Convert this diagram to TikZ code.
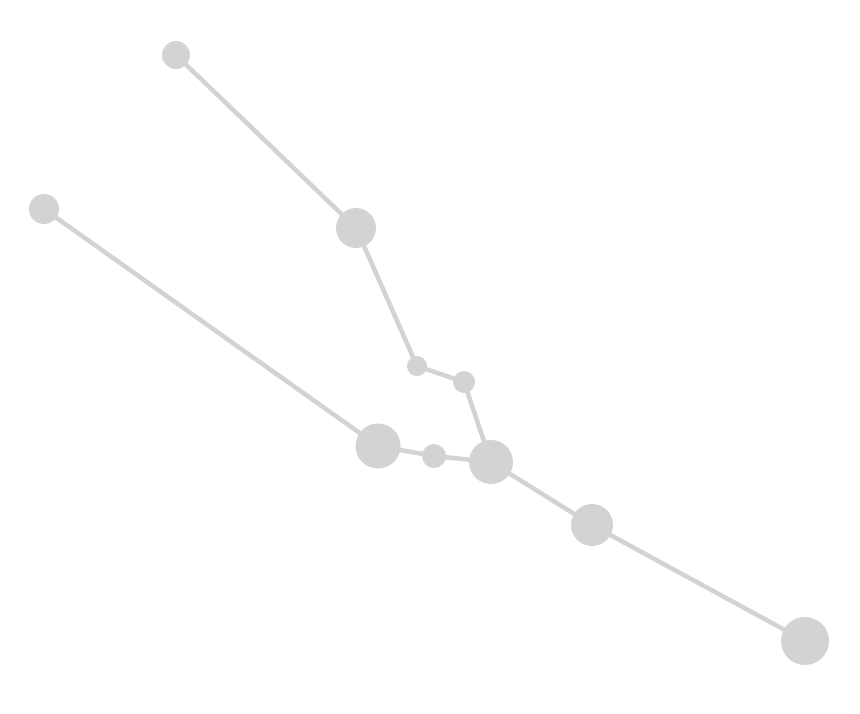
\documentclass[tikz,border=0pt]{standalone}
\begin{document}
\begin{tikzpicture}[x=1pt,y=-1pt,
  dot/.style={circle,fill=nodegray,draw=none,inner sep=0pt,minimum size=#1},
  link/.style={draw=nodegray,line width=4.5pt}]
\definecolor{nodegray}{HTML}{D3D3D3}
\useasboundingbox (0,0) rectangle (860,713);
\node[dot=28pt] (a) at (176,55) {};
\node[dot=40pt] (b) at (356,228) {};
\node[dot=20pt] (c) at (417,366) {};
\node[dot=22pt] (d) at (464,382) {};
\node[dot=30pt] (e) at (44,209) {};
\node[dot=45pt] (f) at (378,446) {};
\node[dot=24pt] (g) at (434,456) {};
\node[dot=44pt] (h) at (491,462) {};
\node[dot=42pt] (i) at (592,525) {};
\node[dot=48pt] (j) at (805,641) {};
\begin{scope}[on background layer/.style={}]
\end{scope}
\path[link] (a.center) -- (b.center);
\path[link] (b.center) -- (c.center);
\path[link] (c.center) -- (d.center);
\path[link] (d.center) -- (h.center);
\path[link] (e.center) -- (f.center);
\path[link] (f.center) -- (g.center);
\path[link] (g.center) -- (h.center);
\path[link] (h.center) -- (i.center);
\path[link] (i.center) -- (j.center);
\end{tikzpicture}
\end{document}
